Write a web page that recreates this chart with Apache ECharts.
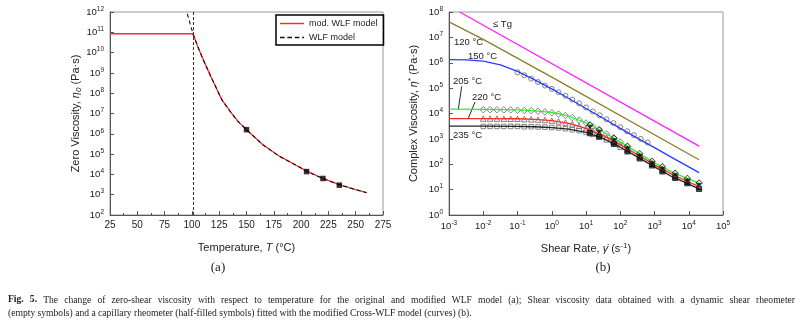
<!DOCTYPE html>
<html><head><meta charset="utf-8">
<script src="https://cdn.jsdelivr.net/npm/echarts@6/dist/echarts.min.js"></script>
<style>html,body{margin:0;padding:0;background:#fff}#c{width:800px;height:325px}</style>
</head><body><div id="c"></div>
<script>
// ---------- Panel (a): zero viscosity vs temperature ----------
const xTicksA = [25, 275, 25];               // min, max, interval
const flatTemp = [25, 101];
const flatVisc = [8.5e10, 8.5e10];
const curveTemp = [101, 105, 110, 115, 120, 127.5, 135, 142, 150, 165, 180, 195, 205, 220, 235, 250, 260];
const curveVisc = [8.5e10, 2.2e10, 5.0e9, 1.26e9, 3.3e8, 4.7e7, 1.26e7, 4.2e6, 1.6e6, 2.9e5, 7.9e4, 2.9e4, 1.45e4, 6.3e3, 3.1e3, 1.78e3, 1.26e3];
const wlfUpperTemp = [95.8, 101];
const wlfUpperVisc = [8.1e11, 8.5e10];
const tgTemp = 101;
const measTemp = [150, 205, 220, 235];
const measVisc = [1.6e6, 1.38e4, 6.3e3, 2.95e3];

// ---------- Panel (b): complex viscosity vs shear rate ----------
const tgRate = [2.04e-3, 2e4];
const tgVisc = [1e8, 520];
const c120Rate = [1e-3, 1e-2, 1, 2e4];
const c120Visc = [4.1e7, 8.3e6, 2.7e5, 150];
const c150Rate = [1e-3, 3.16e-3, 1e-2, 3.16e-2, 1e-1, 0.316, 1, 3.16, 10, 31.6, 100, 316, 1000, 3160, 1e4, 2e4];
const c150Visc = [1.32e6, 1.29e6, 1.15e6, 8.3e5, 4.6e5, 2.1e5, 9.3e4, 3.9e4, 1.58e4, 6.5e3, 2.6e3, 1.07e3, 4.5e2, 1.86e2, 79, 47];
const curveRate = [1e-3, 1e-2, 1e-1, 0.316, 1, 3.16, 10, 31.6, 100, 316, 1000, 3160, 1e4, 2e4];
const c205Visc = [1.48e4, 1.45e4, 1.38e4, 1.26e4, 1.10e4, 7.8e3, 4.3e3, 1.86e3, 7.6e2, 2.95e2, 1.15e2, 50, 26, 18.2];
const c220Visc = [6.3e3, 6.3e3, 6.2e3, 5.9e3, 5.25e3, 4.1e3, 2.6e3, 1.35e3, 5.9e2, 2.4e2, 95, 41, 20, 13.2];
const c235Visc = [3.16e3, 3.16e3, 3.1e3, 3.0e3, 2.8e3, 2.4e3, 1.82e3, 1.05e3, 4.7e2, 1.95e2, 79, 33, 16.6, 10.7];

const blueRate = [0.1, 0.158, 0.251, 0.398, 0.631, 1, 1.58, 2.51, 3.98, 6.31, 10, 15.8, 25.1, 39.8, 63.1, 100, 158, 251, 398, 631];
const d150Visc = [4.2e5, 3.2e5, 2.35e5, 1.74e5, 1.26e5, 9.3e4, 6.9e4, 5.0e4, 3.55e4, 2.5e4, 1.74e4, 1.2e4, 8.5e3, 5.9e3, 4.2e3, 2.9e3, 2.0e3, 1.41e3, 1.0e3, 7.2e2];
const dynRate = [0.01, 0.0158, 0.0251, 0.0398, 0.0631, 0.1, 0.158, 0.251, 0.398, 0.631, 1, 1.58, 2.51, 3.98, 6.31, 10, 15.8, 25.1, 39.8, 63.1, 100];
const d205Visc = [1.41e4, 1.41e4, 1.41e4, 1.38e4, 1.38e4, 1.35e4, 1.32e4, 1.29e4, 1.23e4, 1.15e4, 1.07e4, 9.5e3, 8.3e3, 6.9e3, 5.5e3, 4.2e3, 3.0e3, 2.2e3, 1.55e3, 1.1e3, 7.6e2];
const d220Visc = [6.3e3, 6.3e3, 6.3e3, 6.2e3, 6.2e3, 6.2e3, 6.0e3, 5.9e3, 5.75e3, 5.5e3, 5.25e3, 4.9e3, 4.4e3, 3.8e3, 3.2e3, 2.6e3, 2.1e3, 1.55e3, 1.15e3, 8.3e2, 5.9e2];
const d235Visc = [3.1e3, 3.1e3, 3.1e3, 3.1e3, 3.1e3, 3.1e3, 3.0e3, 3.0e3, 2.95e3, 2.9e3, 2.8e3, 2.7e3, 2.5e3, 2.3e3, 2.1e3, 1.8e3, 1.5e3, 1.2e3, 9.1e2, 6.6e2, 4.7e2];
const capRate = [13, 24, 66, 162, 370, 850, 1700, 4000, 9100, 20000];
const cap205Visc = [3.5e3, 2.3e3, 1.05e3, 5.1e2, 2.6e2, 1.3e2, 79, 44, 27.5, 18.2];
const cap220Visc = [2.3e3, 1.6e3, 7.9e2, 4.0e2, 2.1e2, 1.07e2, 63, 35, 21, 13.2];
const cap235Visc = [1.66e3, 1.2e3, 6.3e2, 3.2e2, 1.7e2, 89, 52, 29, 17.8, 10.7];

const curveLabels = ['\u2264 Tg', '120 \u00B0C', '150 \u00B0C', '205 \u00B0C', '220 \u00B0C', '235 \u00B0C'];
const captionLine1 = 'Fig. 5. The change of zero-shear viscosity with respect to temperature for the original and modified WLF model (a); Shear viscosity data obtained with a dynamic shear rheometer';
const captionLine2 = '(empty symbols) and a capillary rheometer (half-filled symbols) fitted with the modified Cross-WLF model (curves) (b).';

// ---------- helpers ----------
const pairs = (xs, ys) => xs.map((x, i) => [x, ys[i]]);
const SANS = 'Liberation Sans, Arial, sans-serif';
const SERIF = 'Liberation Serif, Times New Roman, serif';
const logLabel = v => '{b|10}{s|' + Math.round(Math.log10(v)) + '}';
const tickRich = {
  b: {fontSize: 9.5, color: '#222', fontFamily: SANS},
  s: {fontSize: 6.5, color: '#222', fontFamily: SANS, padding: [0, 0, 6, 0]}
};
const axisCol = '#555';
const baseAxis = {
  axisLine: {show: true, onZero: false, lineStyle: {color: axisCol, width: 1}},
  axisTick: {show: true, inside: true, length: 4, lineStyle: {color: axisCol}},
  splitLine: {show: false}
};
const nameStyle = {fontSize: 11, color: '#222', fontFamily: SANS,
  rich: {i: {fontSize: 11, fontStyle: 'italic', color: '#222', fontFamily: SANS},
         sub: {fontSize: 8, fontStyle: 'italic', color: '#222', fontFamily: SANS, padding: [0, 0, -5, 0]},
         sup: {fontSize: 8, color: '#222', fontFamily: SANS, padding: [0, 0, 6, 0]}}};

const halfDiamond = 'path://M0,-10 L10,0 L0,10 L-10,0 Z M0,-7 L-7,0 L0,7 L7,0 Z M-7,0 L7,0 L0,7 Z';
const halfTriangle = 'path://M0,-10 L10,8 L-10,8 Z M0,-5 L-6.5,6 L6.5,6 Z M-3.25,0.5 L3.25,0.5 L6.5,6 L-6.5,6 Z';
const halfSquare = 'path://M-10,-10 L10,-10 L10,10 L-10,10 Z M-7,-7 L-7,7 L7,7 L7,-7 Z M-7,0 L7,0 L7,7 L-7,7 Z';
const iconSolid = 'path://M0,0 L26,0 L26,1.6 L0,1.6 Z';
const iconDash = 'path://M0,0 L5,0 L5,1.6 L0,1.6 Z M8,0 L13,0 L13,1.6 L8,1.6 Z M16,0 L21,0 L21,1.6 L16,1.6 Z M24,0 L26,0 L26,1.6 L24,1.6 Z';

function lineS(name, xs, ys, color) {
  return {name, type: 'line', xAxisIndex: 1, yAxisIndex: 1, data: pairs(xs, ys),
    symbol: 'none', smooth: false, z: 5,
    lineStyle: {color, width: 1.3}, itemStyle: {color}};
}
function dynS(xs, ys, symbol, size) {
  return {type: 'scatter', xAxisIndex: 1, yAxisIndex: 1, data: pairs(xs, ys), symbol, symbolSize: size, z: 3,
    itemStyle: {color: '#fff', borderColor: '#555', borderWidth: 0.9}};
}
function capS(xs, ys, symbol, size) {
  return {type: 'scatter', xAxisIndex: 1, yAxisIndex: 1, data: pairs(xs, ys), symbol, symbolSize: size, z: 6,
    itemStyle: {color: '#111'}};
}

// caption: justified first line, natural second line
const CAP = 9.6;
const mctx = document.createElement('canvas').getContext('2d');
function measure(t, bold) { mctx.font = (bold ? 'bold ' : '') + CAP + 'px "Liberation Serif"'; return mctx.measureText(t).width; }
const capGraphics = [];
(function () {
  const words = captionLine1.split(' ');
  const widths = words.map((w, i) => measure(w, i < 2));
  const total = widths.reduce((a, b) => a + b, 0);
  const x0 = 8, x1 = 795;
  const gap = (x1 - x0 - total) / (words.length - 1);
  let x = x0;
  words.forEach((w, i) => {
    capGraphics.push({type: 'text', x, y: 300, style: {text: w, fontSize: CAP, fill: '#222', fontFamily: SERIF,
      fontWeight: i < 2 ? 'bold' : 'normal', verticalAlign: 'middle'}});
    x += widths[i] + gap;
  });
  capGraphics.push({type: 'text', x: 8, y: 313, style: {text: captionLine2, fontSize: CAP, fill: '#222', fontFamily: SERIF, verticalAlign: 'middle'}});
})();

const chart = echarts.init(document.getElementById('c'), null, {renderer: 'canvas'});
const option = {
  animation: false,
  backgroundColor: '#fff',
  textStyle: {fontFamily: SANS},
  grid: [
    {left: 110, top: 12, width: 273, height: 203, show: true, borderColor: '#999', borderWidth: 1, backgroundColor: 'transparent'},
    {left: 449, top: 12, width: 274, height: 203, show: true, borderColor: '#999', borderWidth: 1, backgroundColor: 'transparent'}
  ],
  legend: {
    data: [{name: 'mod. WLF model', icon: iconSolid}, {name: 'WLF model', icon: iconDash}],
    left: 276, top: 15, orient: 'vertical',
    borderColor: '#000', borderWidth: 1.5, padding: [4, 6, 3, 4], itemGap: 5, itemWidth: 24, itemHeight: 1.6,
    textStyle: {fontSize: 9, color: '#222', fontFamily: SANS}
  },
  xAxis: [
    Object.assign({}, baseAxis, {gridIndex: 0, type: 'value', min: xTicksA[0], max: xTicksA[1], interval: xTicksA[2],
      minorTick: {show: true, splitNumber: 2, length: 2, lineStyle: {color: axisCol}},
      axisLabel: {fontSize: 10, color: '#222', margin: 5, fontFamily: SANS},
      name: 'Temperature, {i|T} (\u00B0C)', nameLocation: 'middle', nameGap: 27, nameTextStyle: nameStyle}),
    Object.assign({}, baseAxis, {gridIndex: 1, type: 'log', logBase: 10, min: 1e-3, max: 1e5, splitNumber: 8,
      axisLabel: {formatter: logLabel, rich: tickRich, margin: 5},
      name: 'Shear Rate, {i|\u03B3\u0307} (s{sup|-1})', nameLocation: 'middle', nameGap: 27, nameTextStyle: nameStyle})
  ],
  yAxis: [
    Object.assign({}, baseAxis, {gridIndex: 0, type: 'log', logBase: 10, min: 1e2, max: 1e12, splitNumber: 10,
      axisLabel: {formatter: logLabel, rich: tickRich, margin: 6},
      name: 'Zero Viscosity, {i|\u03B7}{sub|0} (Pa\u00B7s)', nameLocation: 'middle', nameGap: 28, nameRotate: 90, nameTextStyle: nameStyle}),
    Object.assign({}, baseAxis, {gridIndex: 1, type: 'log', logBase: 10, min: 1e0, max: 1e8, splitNumber: 8,
      axisLabel: {formatter: logLabel, rich: tickRich, margin: 6},
      name: 'Complex Viscosity, {i|\u03B7}{sup|*} (Pa\u00B7s)', nameLocation: 'middle', nameGap: 28, nameRotate: 90, nameTextStyle: nameStyle})
  ],
  series: [
    {name: 'mod. WLF model', type: 'line', xAxisIndex: 0, yAxisIndex: 0, data: pairs(flatTemp, flatVisc),
      symbol: 'none', lineStyle: {color: '#ff2a2a', width: 1.3}, itemStyle: {color: '#ff2a2a'}},
    {name: 'mod. WLF model', type: 'line', xAxisIndex: 0, yAxisIndex: 0, data: pairs(curveTemp, curveVisc),
      symbol: 'none', lineStyle: {color: '#ff2a2a', width: 1.3}, itemStyle: {color: '#ff2a2a'}},
    {name: 'WLF model', type: 'line', xAxisIndex: 0, yAxisIndex: 0, data: pairs(wlfUpperTemp, wlfUpperVisc),
      symbol: 'none', lineStyle: {color: '#111', width: 1.1, type: [4, 3]}, itemStyle: {color: '#111'},
      markLine: {silent: true, symbol: 'none', label: {show: false},
        lineStyle: {color: '#333', width: 1, type: [3, 2]}, data: [{xAxis: tgTemp}]}},
    {name: 'WLF model', type: 'line', xAxisIndex: 0, yAxisIndex: 0, data: pairs(curveTemp, curveVisc),
      symbol: 'none', lineStyle: {color: '#111', width: 1.1, type: [4, 3]}, itemStyle: {color: '#111'}},
    {type: 'scatter', xAxisIndex: 0, yAxisIndex: 0, data: pairs(measTemp, measVisc), symbol: 'rect', symbolSize: 5.5,
      itemStyle: {color: '#000'}, z: 6},

    dynS(dynRate, d205Visc, 'diamond', 6.5),
    dynS(dynRate, d220Visc, 'triangle', 5.5),
    dynS(dynRate, d235Visc, 'rect', 4.5),
    dynS(blueRate, d150Visc, 'circle', 5),
    lineS('tg', tgRate, tgVisc, '#ff20ff'),
    lineS('120', c120Rate, c120Visc, '#8c7d28'),
    lineS('150', c150Rate, c150Visc, '#2a3cff'),
    lineS('205', curveRate, c205Visc, '#2aee2a'),
    lineS('220', curveRate, c220Visc, '#ff2a2a'),
    lineS('235', curveRate, c235Visc, '#222'),
    capS(capRate, cap205Visc, halfDiamond, 7.5),
    capS(capRate, cap220Visc, halfTriangle, 7),
    capS(capRate, cap235Visc, halfSquare, 6)
  ],
  graphic: [
    {type: 'text', left: 493, top: 19, style: {text: curveLabels[0], fontSize: 9.5, fill: '#222', fontFamily: SANS}},
    {type: 'text', left: 454, top: 37, style: {text: curveLabels[1], fontSize: 9.5, fill: '#222', fontFamily: SANS}},
    {type: 'text', left: 468, top: 51, style: {text: curveLabels[2], fontSize: 9.5, fill: '#222', fontFamily: SANS}},
    {type: 'text', left: 453, top: 76, style: {text: curveLabels[3], fontSize: 9.5, fill: '#222', fontFamily: SANS}},
    {type: 'text', left: 472, top: 92, style: {text: curveLabels[4], fontSize: 9.5, fill: '#222', fontFamily: SANS}},
    {type: 'text', left: 453, top: 130, style: {text: curveLabels[5], fontSize: 9.5, fill: '#222', fontFamily: SANS}},
    {type: 'line', shape: {x1: 461.7, y1: 86.5, x2: 458.3, y2: 109.3}, style: {stroke: '#111', lineWidth: 0.9}},
    {type: 'line', shape: {x1: 475, y1: 102, x2: 468.3, y2: 118.3}, style: {stroke: '#111', lineWidth: 0.9}},
    {type: 'text', x: 218, y: 268, style: {text: '(a)', fontSize: 13, fill: '#222', fontFamily: SERIF, align: 'center', verticalAlign: 'middle'}},
    {type: 'text', x: 603, y: 268, style: {text: '(b)', fontSize: 13, fill: '#222', fontFamily: SERIF, align: 'center', verticalAlign: 'middle'}}
  ].concat(capGraphics)
};
chart.setOption(option);
</script></body></html>
